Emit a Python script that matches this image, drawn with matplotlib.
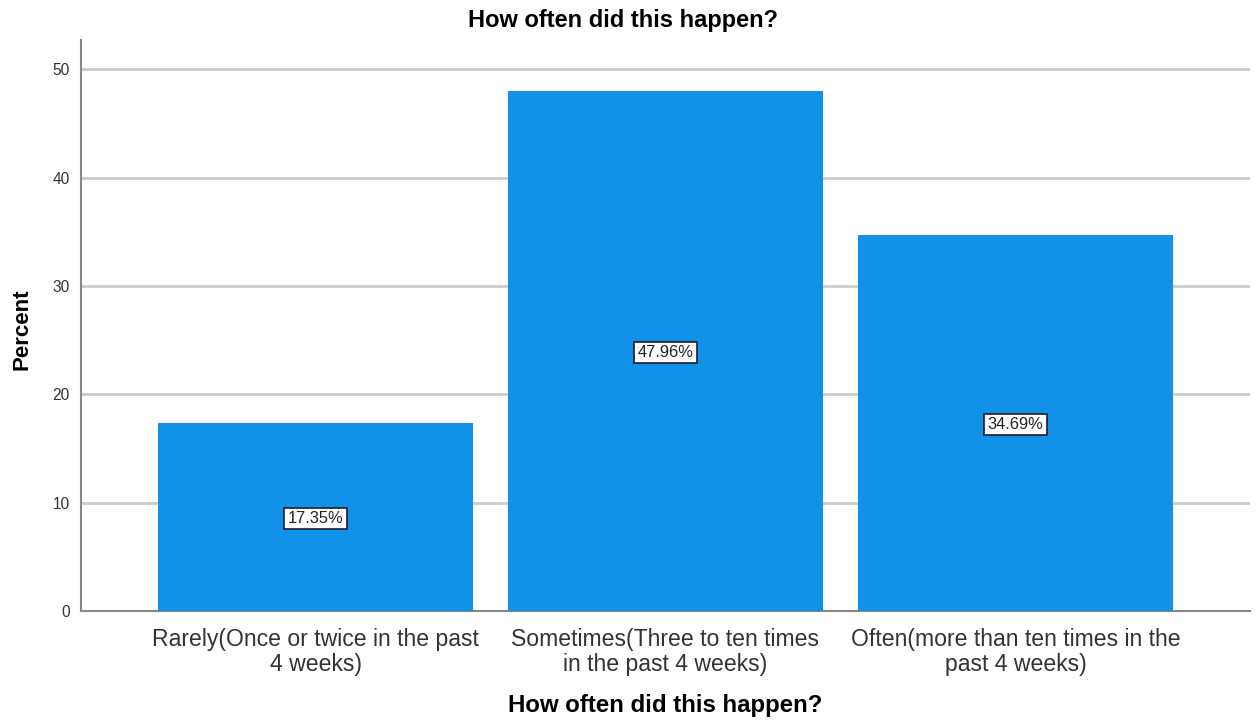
import matplotlib
matplotlib.use("Agg")
import matplotlib.pyplot as plt

categories = [
    "Rarely(Once or twice in the past\n4 weeks)",
    "Sometimes(Three to ten times\nin the past 4 weeks)",
    "Often(more than ten times in the\npast 4 weeks)",
]
percents = [17.35, 47.96, 34.69]
yticks = [0, 10, 20, 30, 40, 50]
title = "How often did this happen?"

plt.rcParams["font.family"] = ["Liberation Sans", "DejaVu Sans"]

fig = plt.figure(figsize=(12.56, 7.22), dpi=100)
ax = fig.add_axes([0.0645, 0.1537, 0.9307, 0.7909])

x = list(range(len(categories)))
ax.bar(x, percents, width=0.9, color="#1192E8", zorder=3)

for xi, v in zip(x, percents):
    ax.text(xi, v / 2, f"{v:.2f}%", ha="center", va="center_baseline",
            fontsize=11.8, color="#222222", zorder=4,
            bbox=dict(boxstyle="square,pad=0.2", facecolor="white",
                      edgecolor="#1a1a2e", linewidth=1.2))

ax.set_xlim(-0.67, 2.67)
ax.set_ylim(0, 52.7)
ax.set_yticks(yticks)
ax.set_xticks(x)
ax.set_xticklabels(categories, fontsize=16.6, color="#333333", linespacing=1.15)
ax.tick_params(axis="y", labelsize=11.2, colors="#333333", length=0, pad=8)
ax.tick_params(axis="x", length=0, pad=12)

ax.yaxis.grid(True, color="#cccccc", linewidth=2, zorder=0)
ax.set_axisbelow(True)
for s in ["top", "right"]:
    ax.spines[s].set_visible(False)
for s in ["left", "bottom"]:
    ax.spines[s].set_color("#888888")
    ax.spines[s].set_linewidth(1.5)

fig.text(623 / 1256, 1 - 21 / 722, title, ha="center", va="center",
         fontsize=17, fontweight="bold")

ax.set_xlabel(title, fontsize=17.3, fontweight="bold")
ax.xaxis.label.set_va("center")
ax.xaxis.set_label_coords(0.5, -0.1646)

ax.set_ylabel("Percent", fontsize=16, fontweight="bold")
ax.yaxis.label.set_va("center")
ax.yaxis.set_label_coords(-0.0505, 0.494)

fig.savefig("out.png", dpi=100)
